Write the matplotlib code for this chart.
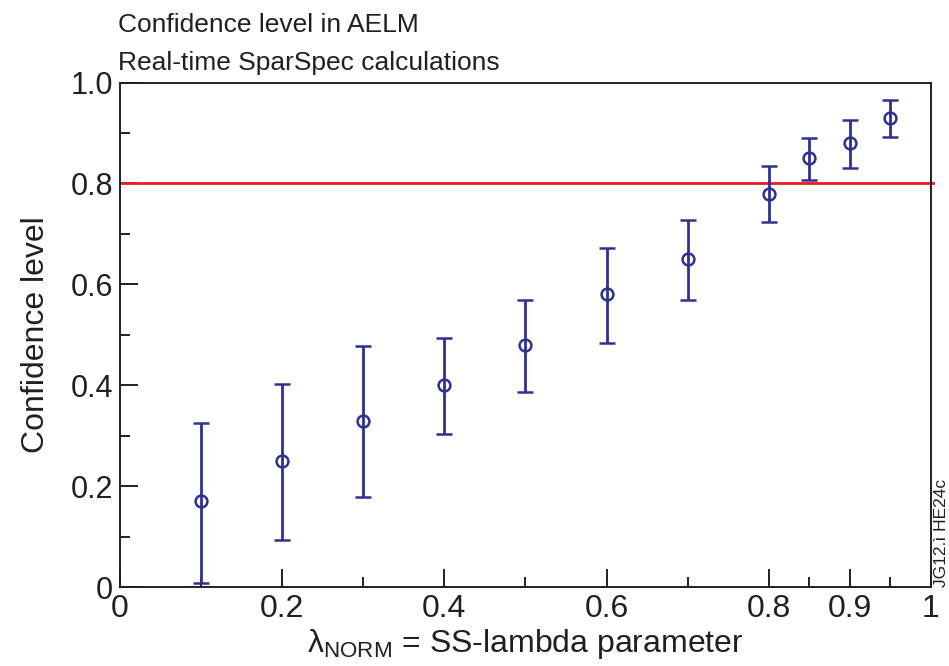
import matplotlib
matplotlib.use("Agg")
import matplotlib.pyplot as plt
from matplotlib.ticker import FixedLocator

plt.rcParams['font.family'] = ['Liberation Sans', 'DejaVu Sans']

# SS-lambda parameter values and confidence level with error ranges
lam = [0.1, 0.2, 0.3, 0.4, 0.5, 0.6, 0.7, 0.8, 0.85, 0.9, 0.95]
conf = [0.17, 0.25, 0.33, 0.40, 0.48, 0.58, 0.65, 0.78, 0.85, 0.88, 0.93]
conf_hi = [0.325, 0.403, 0.478, 0.494, 0.569, 0.672, 0.728, 0.834, 0.891, 0.925, 0.965]
conf_lo = [0.008, 0.093, 0.179, 0.304, 0.387, 0.484, 0.569, 0.723, 0.806, 0.831, 0.892]
threshold = 0.8

x_major = [0, 0.2, 0.4, 0.6, 0.8, 0.9, 1.0]
x_major_labels = ['0', '0.2', '0.4', '0.6', '0.8', '0.9', '1']
x_minor = [0.1, 0.3, 0.5, 0.7, 0.85, 0.95]
y_major = [0, 0.2, 0.4, 0.6, 0.8, 1.0]
y_major_labels = ['0', '0.2', '0.4', '0.6', '0.8', '1.0']
y_minor = [0.1, 0.3, 0.5, 0.7, 0.9]

blue = '#2e3192'
red = '#ed1c24'
dark = '#231f20'

fig = plt.figure(figsize=(9.49, 6.66), dpi=100)
ax = fig.add_axes([0.1264, 0.1186, 0.8546, 0.7574])

err_lo = [c - l for c, l in zip(conf, conf_lo)]
err_hi = [h - c for c, h in zip(conf, conf_hi)]
ax.errorbar(lam, conf, yerr=[err_lo, err_hi], fmt='o', color=blue,
            mfc='none', mec=blue, mew=1.8, ms=8.5, elinewidth=2.0,
            capsize=6, capthick=2.0, zorder=3)

ax.axhline(threshold, color=red, lw=2.0, xmin=0.003, xmax=1.003,
           clip_on=False, zorder=2)

ax.set_xlim(0, 1)
ax.set_ylim(0, 1)
ax.xaxis.set_major_locator(FixedLocator(x_major))
ax.xaxis.set_minor_locator(FixedLocator(x_minor))
ax.set_xticklabels(x_major_labels)
ax.yaxis.set_major_locator(FixedLocator(y_major))
ax.yaxis.set_minor_locator(FixedLocator(y_minor))
ax.set_yticklabels(y_major_labels)

ax.tick_params(which='both', direction='in', top=False, right=False,
               colors=dark, width=1.4, labelcolor=dark)
ax.tick_params(axis='y', labelsize=22)
ax.tick_params(axis='x', labelsize=23)
ax.tick_params(which='major', length=13, pad=5)
ax.tick_params(which='minor', length=7)
for s in ax.spines.values():
    s.set_linewidth(1.4)
    s.set_color(dark)

ax.set_xlabel('λ$_{\\mathregular{NORM}}$ = SS-lambda parameter',
              fontsize=23, color=dark, labelpad=2)
ax.set_ylabel('Confidence level', fontsize=23, color=dark, labelpad=14)

fig.text(0.124, 0.952, 'Confidence level in AELM', fontsize=19,
         color=dark, ha='left', va='baseline')
fig.text(0.124, 0.895, 'Real-time SparSpec calculations', fontsize=19,
         color=dark, ha='left', va='baseline')

fig.text(1.0, 0.118, 'JG12.ì HË24c', rotation=90, fontsize=12.5,
         color=dark, ha='right', va='bottom')

fig.savefig('out.png', dpi=100)
